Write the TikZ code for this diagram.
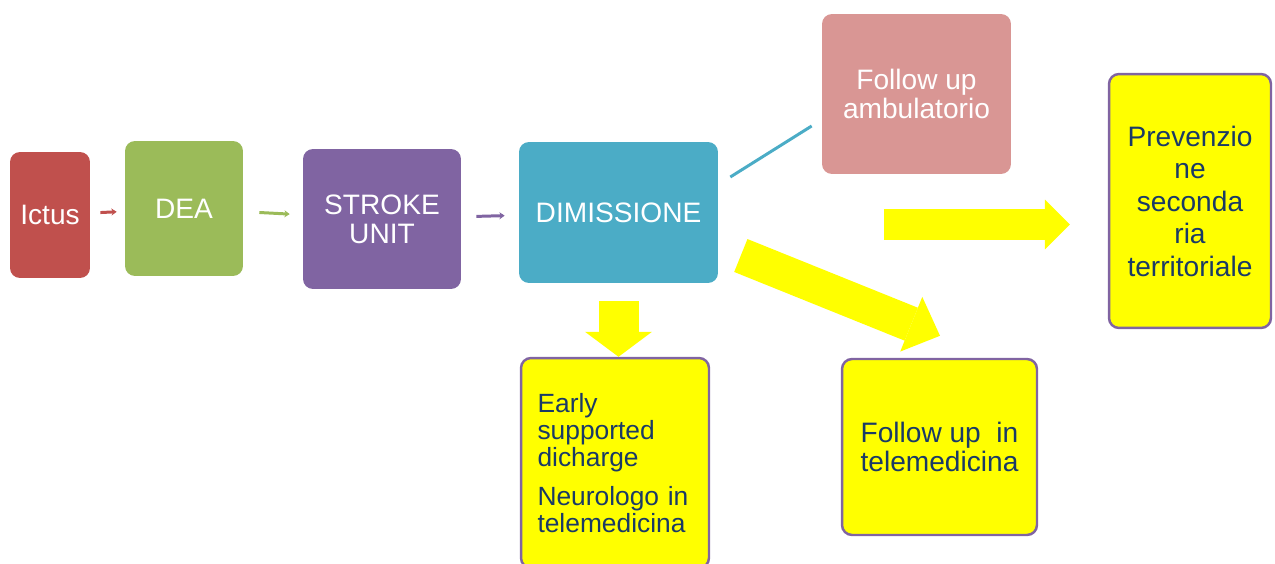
\documentclass[tikz,border=0pt]{standalone}
\usepackage{fontspec}
\setmainfont{Liberation Sans}
\usetikzlibrary{arrows.meta}
\definecolor{rossoIctus}{HTML}{C0504D}
\definecolor{verdeDea}{HTML}{9BBB59}
\definecolor{violaStroke}{HTML}{8064A2}
\definecolor{bluDimissione}{HTML}{4BACC6}
\definecolor{rosaAmbulatorio}{HTML}{D99694}
\definecolor{gialloPieno}{HTML}{FFFF00}
\definecolor{bluTesto}{HTML}{1A3A66}
\begin{document}
\begin{tikzpicture}[x=0.02cm,y=-0.02cm]
	% Stili
	\tikzstyle{blocco}=[rounded corners=0.2cm,inner sep=0pt,text=white,align=center,font=\fontsize{16}{16.5}\selectfont]
	\tikzstyle{giallo}=[blocco,fill=gialloPieno,draw=violaStroke,line width=1.4pt,text=bluTesto]
	\tikzstyle{legame}=[line width=1.7pt,-{Stealth[length=3pt,width=4pt]}]
	\tikzstyle{freccia}=[draw=gialloPieno,line cap=butt]
	% Cornice
	\useasboundingbox (0,0) rectangle (1275,564);
	\clip (0,0) rectangle (1275,564);
	% Nodi del percorso
	\node[blocco,fill=rossoIctus,minimum width=1.6cm,minimum height=2.52cm] (ictus) at (50,215) {Ictus};
	\node[blocco,fill=verdeDea,minimum width=2.36cm,minimum height=2.7cm] (dea) at (184,208.5) {DEA};
	\node[blocco,fill=violaStroke,minimum width=3.16cm,minimum height=2.8cm] (stroke) at (382,219) {STROKE\\UNIT};
	\node[blocco,fill=bluDimissione,minimum width=3.98cm,minimum height=2.82cm] (dimissione) at (618.5,212.5) {DIMISSIONE};
	\node[blocco,fill=rosaAmbulatorio,minimum width=3.78cm,minimum height=3.2cm,font=\fontsize{16}{17}\selectfont] (ambulatorio) at (916.5,94) {Follow up\\ambulatorio};
	% Nodi gialli
	\node[giallo,minimum width=3.24cm,minimum height=5.08cm,font=\fontsize{16}{18.5}\selectfont] (prevenzione) at (1190,201) {Prevenzio\\ne\\seconda\\ria\\territoriale};
	\node[giallo,minimum width=3.76cm,minimum height=4.2cm,text width=3.1cm,align=left,font=\fontsize{15}{15.3}\selectfont] (esd) at (615,463) {Early\\supported\\dicharge\\[7pt]Neurologo in\\telemedicina};
	\node[giallo,minimum width=3.9cm,minimum height=3.52cm,font=\fontsize{16}{16.5}\selectfont] (telemed) at (939.5,447) {Follow up~ in\\telemedicina};
	% Legami
	\draw[legame,rossoIctus,shorten <=0.2cm,shorten >=0.16cm] (ictus) -- (dea);
	\draw[legame,verdeDea,shorten <=0.32cm,shorten >=0.26cm] (dea) -- (stroke);
	\draw[legame,violaStroke,shorten <=0.3cm,shorten >=0.28cm] (stroke) -- (dimissione);
	\draw[line width=1.7pt,bluDimissione] ([shift={(12,-35.5)}]dimissione.east) -- ([shift={(-10,32)}]ambulatorio.west);
	% Frecce gialle
	\draw[freccia,line width=0.8cm,shorten <=0.36cm,-{Triangle[length=0.5cm,width=1.34cm,line width=0pt]}] (dimissione.south) -- (dimissione.south |- esd.north);
	\draw[freccia,line width=0.71cm,-{Triangle[length=0.62cm,width=1.18cm,line width=0pt]}] ([shift={(22.5,43)}]dimissione.east) -- ([shift={(0.5,-22)}]telemed.north);
	\draw[freccia,line width=0.62cm,-{Triangle[length=0.5cm,width=1cm,line width=0pt]}] ([shift={(-224,23.5)}]prevenzione.west) -- ([shift={(-38,23.5)}]prevenzione.west);
\end{tikzpicture}
\end{document}
